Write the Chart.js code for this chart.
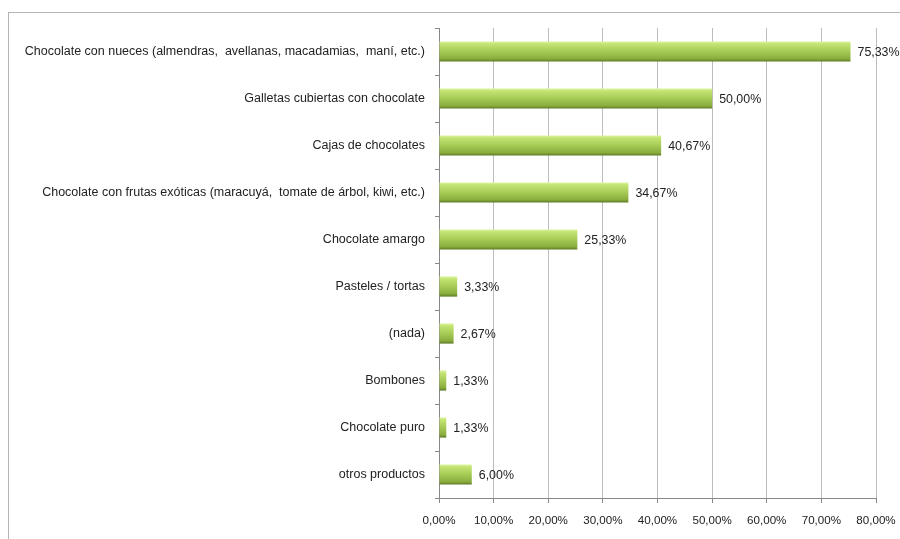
<!DOCTYPE html>
<html>
<head>
<meta charset="utf-8">
<script src="https://cdn.jsdelivr.net/npm/chart.js@4"></script>
<style>
    html, body { margin: 0; padding: 0; background: #fff; overflow: hidden; }
    #wrap { position: relative; width: 900px; height: 539px; }
    #frame { position: absolute; left: 8px; top: 12px; width: 1000px; height: 600px; border: 1px solid #b4b4b4; }
    #chart { position: absolute; left: 0; top: 0; }
</style>
</head>
<body>
<div id="wrap">
    <div id="frame"></div>
    <canvas id="chart" width="900" height="539"></canvas>
</div>
<script>
// Products and share of answers (%)
const categories = [
    'Chocolate con nueces (almendras,  avellanas, macadamias,  maní, etc.)',
    'Galletas cubiertas con chocolate',
    'Cajas de chocolates',
    'Chocolate con frutas exóticas (maracuyá,  tomate de árbol, kiwi, etc.)',
    'Chocolate amargo',
    'Pasteles / tortas',
    '(nada)',
    'Bombones',
    'Chocolate puro',
    'otros productos'
];
const shares = [75.33, 50.00, 40.67, 34.67, 25.33, 3.33, 2.67, 1.33, 1.33, 6.00];
const axisMax = 80;
const axisStep = 10;

const FONT = 'Liberation Sans, Arial, sans-serif';

// 12,34 -> "12,34%"
const fmtPct = v => v.toFixed(2).replace('.', ',') + '%';

// Vertical green gradient for each bar, bevel-like
const barFill = (ctx) => {
    const chart = ctx.chart;
    if (!chart.chartArea || !chart.scales.y) return '#9bbb59';
    const y = chart.scales.y.getPixelForValue(ctx.dataIndex);
    const g = chart.ctx.createLinearGradient(0, y - 10, 0, y + 10);
    g.addColorStop(0, '#dcf5a0');
    g.addColorStop(0.12, '#c3e474');
    g.addColorStop(0.5, '#a6cb55');
    g.addColorStop(0.86, '#8aad3e');
    g.addColorStop(1, '#5e7c25');
    return g;
};

// Value label next to the end of each bar
const valueLabels = {
    id: 'valueLabels',
    afterDatasetsDraw(chart) {
        const { ctx } = chart;
        const meta = chart.getDatasetMeta(0);
        ctx.save();
        ctx.font = '12.4px ' + FONT;
        ctx.fillStyle = '#222';
        ctx.textBaseline = 'middle';
        ctx.textAlign = 'left';
        meta.data.forEach((bar, i) => {
            ctx.fillText(fmtPct(shares[i]), bar.x + 7, bar.y + 1);
        });
        ctx.restore();
    }
};

new Chart(document.getElementById('chart'), {
    type: 'bar',
    data: {
        labels: categories,
        datasets: [{
            data: shares,
            backgroundColor: barFill,
            borderWidth: 0,
            barPercentage: 0.43,
            categoryPercentage: 1
        }]
    },
    options: {
        indexAxis: 'y',
        responsive: false,
        animation: false,
        layout: { padding: { top: 28, right: 24, left: 0, bottom: 0 } },
        plugins: {
            legend: { display: false },
            tooltip: { enabled: false }
        },
        scales: {
            x: {
                min: 0,
                max: axisMax,
                ticks: {
                    stepSize: axisStep,
                    color: '#222',
                    font: { family: FONT, size: 11.6 },
                    padding: 11,
                    maxRotation: 0,
                    callback: v => fmtPct(v)
                },
                grid: { color: '#bdbdbd', tickColor: '#888', tickLength: 5 },
                border: { color: '#888' },
                afterFit: s => {
                    s.height = 41;
                    s.paddingLeft = 0;
                    s.paddingRight = 0;
                }
            },
            y: {
                ticks: {
                    color: '#222',
                    font: { family: FONT, size: 12.5 },
                    padding: 10,
                    autoSkip: false
                },
                grid: { drawOnChartArea: false, tickColor: '#888', tickLength: 4, offset: true },
                border: { color: '#888' },
                afterFit: s => { s.width = 439; }
            }
        }
    },
    plugins: [valueLabels]
});
</script>
</body>
</html>
